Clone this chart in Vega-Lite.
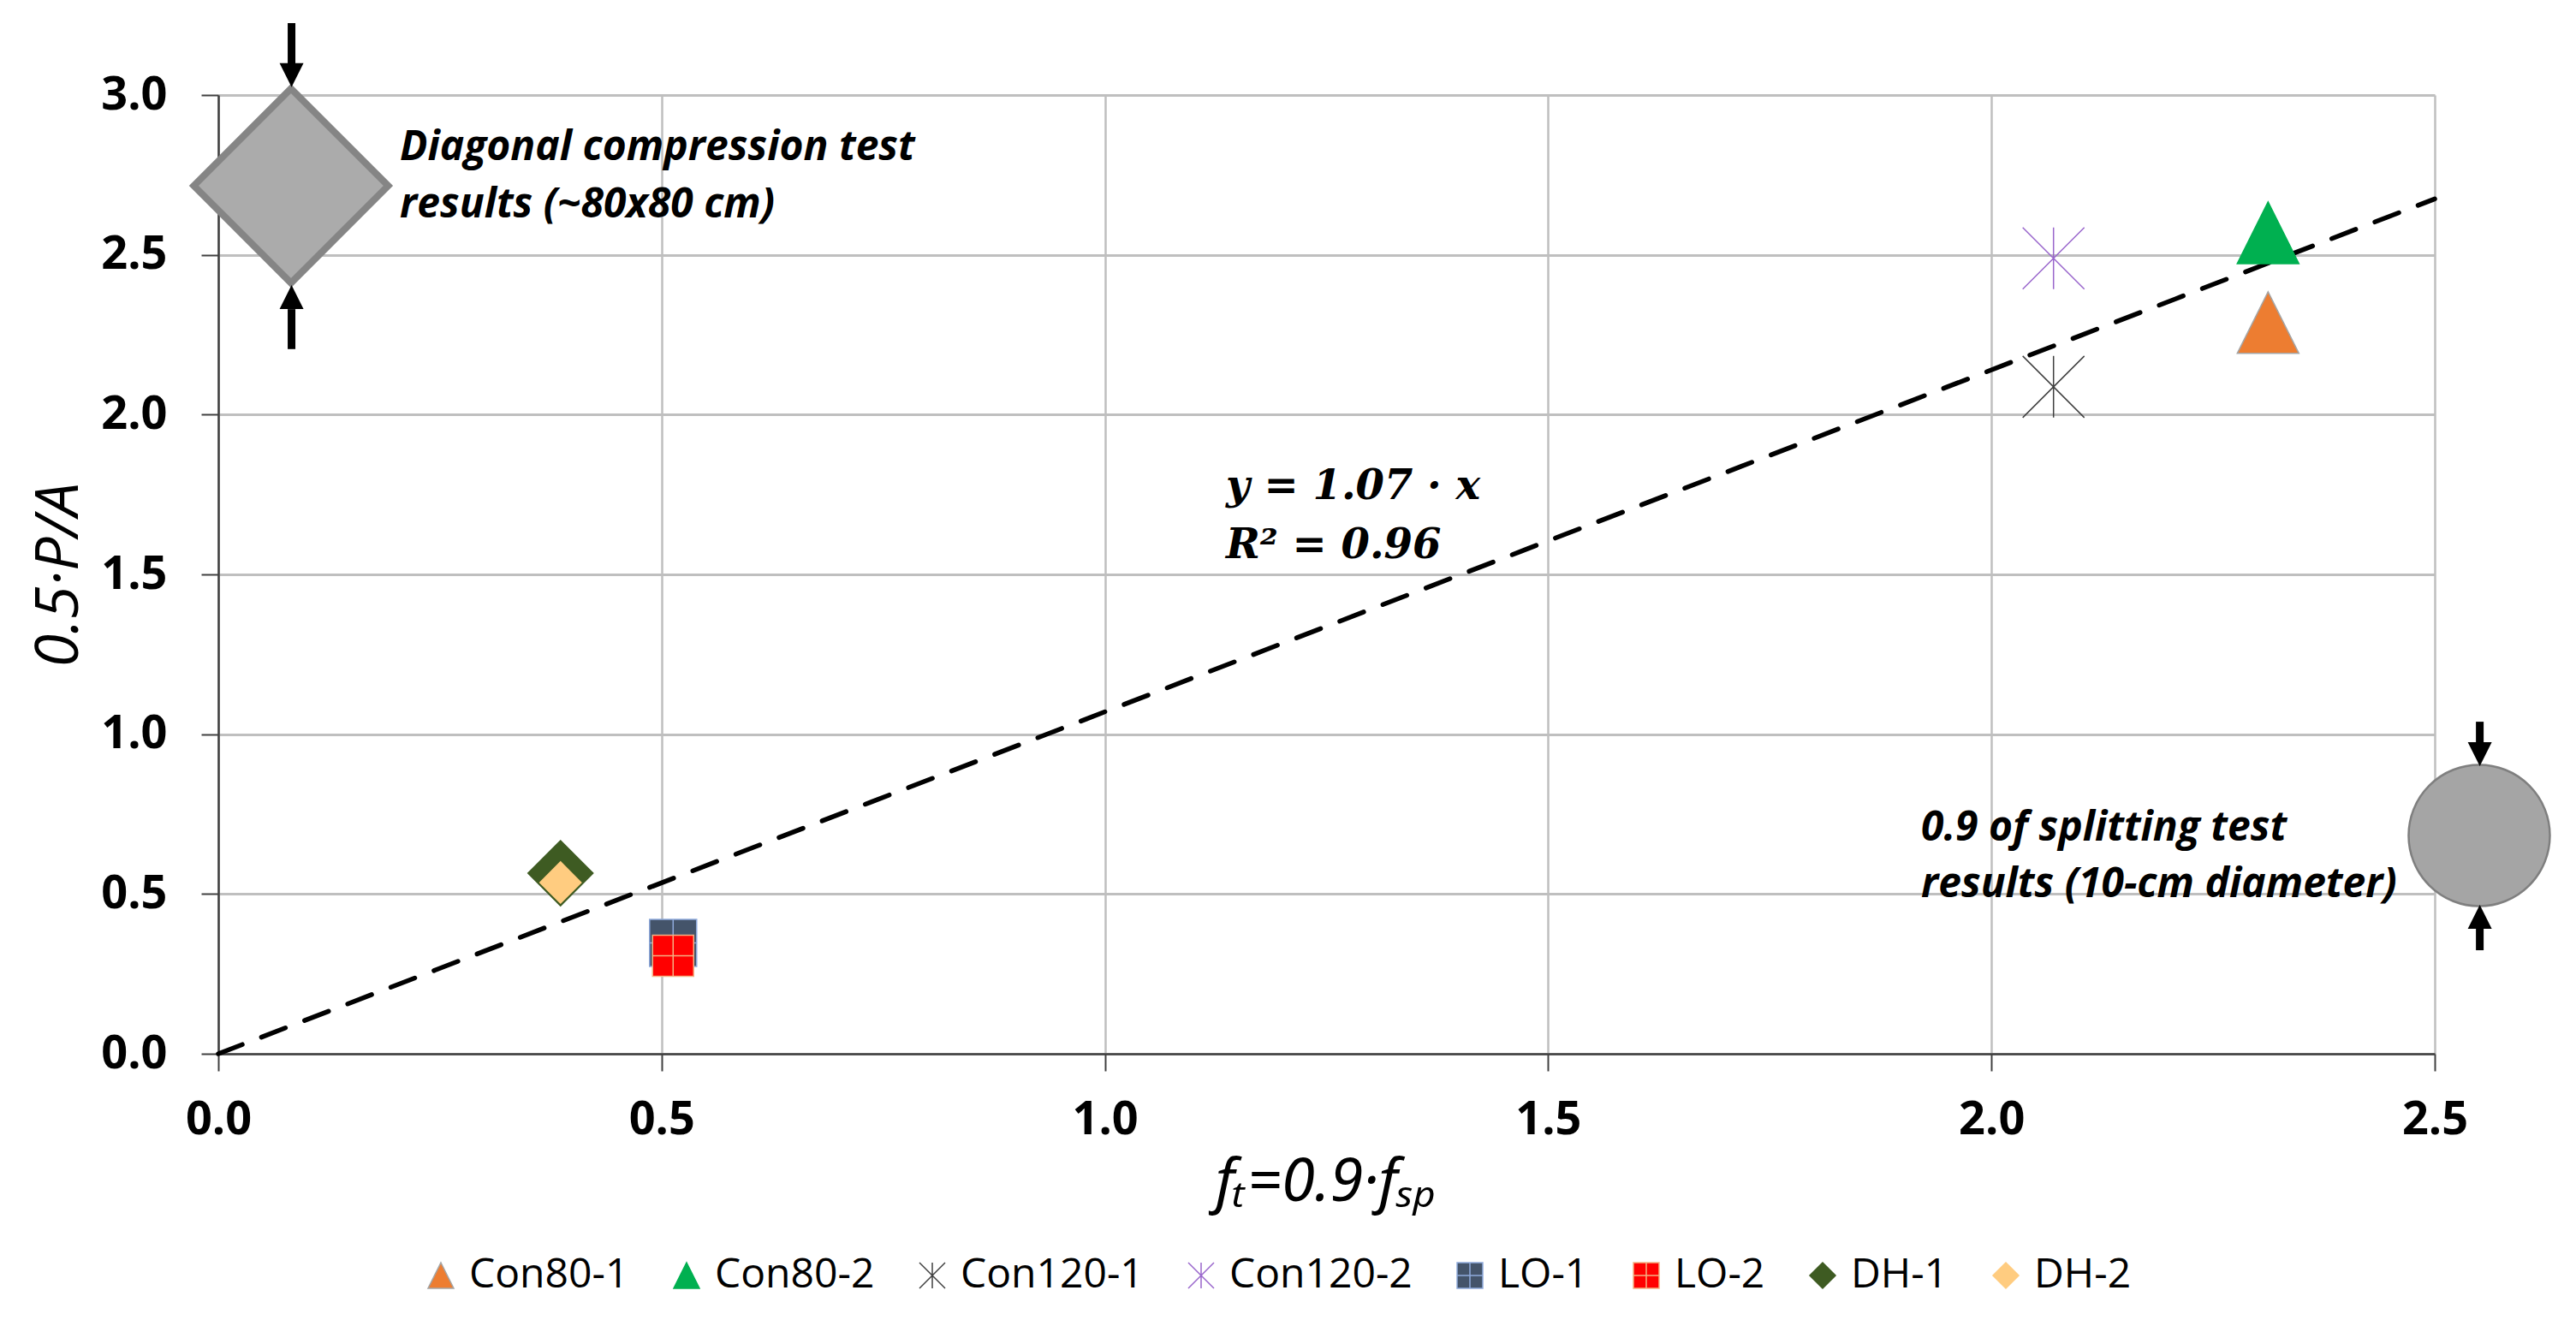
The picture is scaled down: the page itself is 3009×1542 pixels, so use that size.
{
"$schema":"https://vega.github.io/schema/vega-lite/v6.json",
"width":2589,"height":1120,
"autosize":{"type":"none"},
"padding":{"left":255,"top":111,"right":165,"bottom":311},
"background":"white",
"config":{"view":{"stroke":null}},
"datasets":{
"points":[
{"series":"Con80-1","ft":2.312,"stress":2.288},
{"series":"Con80-2","ft":2.312,"stress":2.569},
{"series":"Con120-1","ft":2.07,"stress":2.087},
{"series":"Con120-2","ft":2.07,"stress":2.489},
{"series":"LO-1","ft":0.513,"stress":0.347},
{"series":"LO-2","ft":0.513,"stress":0.307},
{"series":"DH-1","ft":0.386,"stress":0.565},
{"series":"DH-2","ft":0.386,"stress":0.536}
],
"fit":[{"ft":0,"stress":0},{"ft":2.5,"stress":2.675}],
"shafts":[
{"ft":0.0826,"from":3.225,"to":3.099},
{"ft":0.0826,"from":2.33,"to":2.205},
{"ft":2.5508,"from":1.039,"to":0.975},
{"ft":2.5508,"from":0.391,"to":0.324}
],
"headsDown":[{"ft":0.0826,"stress":3.062},{"ft":2.5508,"stress":0.9375}],
"headsUp":[{"ft":0.0826,"stress":2.368},{"ft":2.5508,"stress":0.4286}],
"notes":[
{"ft":0.2047,"stress":2.797,"note":"Diagonal compression test"},
{"ft":0.2047,"stress":2.618,"note":"results (~80x80 cm)"},
{"ft":1.9206,"stress":0.667,"note":"0.9 of splitting test"},
{"ft":1.9206,"stress":0.49,"note":"results (10-cm diameter)"}
],
"equation":[
{"ft":1.1365,"stress":1.736,"note":"y = 1.07 · x"},
{"ft":1.1365,"stress":1.551,"note":"R² = 0.96"}
]
},
"layer":[
{"data":{"name":"fit"},"mark":{"type":"line","color":"black","strokeWidth":5.5,"strokeDash":[30,24],"strokeCap":"round"},
"encoding":{
"x":{"field":"ft","type":"quantitative","scale":{"domain":[0,2.5],"nice":false,"zero":false},
"axis":{"values":[0,0.5,1,1.5,2,2.5],"format":".1f","title":"fₜ=0.9·fₛₚ","labelFlush":false,"labelFont":"Open Sans","labelFontWeight":"bold","labelFontSize":54,"labelColor":"black","labelPadding":30,"tickSize":20,"tickColor":"#404040","tickWidth":2,"domainColor":"#404040","domainWidth":2.5,"grid":true,"gridColor":"#BFBFBF","gridWidth":2.5,"titleFont":"Noto Sans","titleFontStyle":"italic","titleFontWeight":"normal","titleFontSize":70,"titleColor":"black","titlePadding":12}},
"y":{"field":"stress","type":"quantitative","scale":{"domain":[0,3],"nice":false,"zero":false},
"axis":{"values":[0,0.5,1,1.5,2,2.5,3],"format":".1f","title":"0.5·P/A","labelFont":"Open Sans","labelFontWeight":"bold","labelFontSize":54,"labelColor":"black","labelPadding":40,"tickSize":20,"tickColor":"#404040","tickWidth":2,"domainColor":"#404040","domainWidth":2.5,"grid":true,"gridColor":"#BFBFBF","gridWidth":3,"titleFont":"Open Sans","titleFontStyle":"italic","titleFontWeight":"normal","titleFontSize":70,"titleColor":"black","titlePadding":12}}
}},
{"data":{"name":"points"},"mark":{"type":"point","filled":true,"opacity":1,"strokeWidth":1.5},
"encoding":{
"x":{"field":"ft","type":"quantitative"},
"y":{"field":"stress","type":"quantitative"},
"fill":{"field":"series","type":"nominal","title":null,
"scale":{"domain":["Con80-1","Con80-2","Con120-1","Con120-2","LO-1","LO-2","DH-1","DH-2"],
"range":["#ED7D31","#00B050","#404040","#9966CC","#44546A","#FF0000","#3E5B22","#FFCC80"]},
"legend":{"orient":"none","legendX":236,"legendY":1355,"direction":"horizontal","columns":8,"symbolSize":900,"symbolStrokeWidth":1.5,"labelFont":"Open Sans","labelFontSize":48,"labelColor":"black","labelOffset":9,"columnPadding":43,"labelLimit":400,"symbolOpacity":1}},
"stroke":{"field":"series","type":"nominal","title":null,
"scale":{"domain":["Con80-1","Con80-2","Con120-1","Con120-2","LO-1","LO-2","DH-1","DH-2"],
"range":["#A5A5A5","#00B050","#404040","#9966CC","#8FAADC","#F4B183","#3E5B22","#FFCC80"]}},
"shape":{"field":"series","type":"nominal","title":null,
"scale":{"domain":["Con80-1","Con80-2","Con120-1","Con120-2","LO-1","LO-2","DH-1","DH-2"],
"range":["M0,-1L1,1L-1,1Z","M0,-1L1,1L-1,1Z","M0,-1L0,1M-1,-1L1,1M-1,1L1,-1","M0,-1L0,1M-1,-1L1,1M-1,1L1,-1","M-1,-1L1,-1L1,1L-1,1ZM0,-1L0,1M-1,0L1,0","M-1,-1L1,-1L1,1L-1,1ZM0,-1L0,1M-1,0L1,0","M0,-1L1,0L0,1L-1,0Z","M0,-1L1,0L0,1L-1,0Z"]}},
"size":{"field":"series","type":"nominal","legend":null,
"scale":{"type":"ordinal","domain":["DH-2","DH-1","LO-2","LO-1","Con120-2","Con120-1","Con80-2","Con80-1"],
"range":[2304,5776,2304,3025,5184,5184,5184,5184]}}
}},
{"data":{"values":[{"ft":0.082,"stress":2.716}]},"mark":{"type":"point","filled":true,"opacity":1,"shape":"M0,-1L1,0L0,1L-1,0Z","size":51529,"fill":"#ABABAB","stroke":"#858585","strokeWidth":8},
"encoding":{"x":{"field":"ft","type":"quantitative"},"y":{"field":"stress","type":"quantitative"}}},
{"data":{"values":[{"ft":2.5502,"stress":0.683}]},"mark":{"type":"point","filled":true,"opacity":1,"shape":"circle","size":27225,"fill":"#A5A5A5","stroke":"#7F7F7F","strokeWidth":2.5},
"encoding":{"x":{"field":"ft","type":"quantitative"},"y":{"field":"stress","type":"quantitative"}}},
{"data":{"name":"shafts"},"mark":{"type":"rule","color":"black","strokeWidth":9},
"encoding":{"x":{"field":"ft","type":"quantitative"},"y":{"field":"from","type":"quantitative"},"y2":{"field":"to"}}},
{"data":{"name":"headsDown"},"mark":{"type":"point","filled":true,"opacity":1,"shape":"M-1,-1L1,-1L0,1Z","size":784,"fill":"black","strokeWidth":0},
"encoding":{"x":{"field":"ft","type":"quantitative"},"y":{"field":"stress","type":"quantitative"}}},
{"data":{"name":"headsUp"},"mark":{"type":"point","filled":true,"opacity":1,"shape":"M0,-1L1,1L-1,1Z","size":784,"fill":"black","strokeWidth":0},
"encoding":{"x":{"field":"ft","type":"quantitative"},"y":{"field":"stress","type":"quantitative"}}},
{"data":{"name":"notes"},"mark":{"type":"text","align":"left","baseline":"alphabetic","font":"Open Sans","fontStyle":"italic","fontWeight":"bold","fontSize":48,"color":"black"},
"encoding":{"x":{"field":"ft","type":"quantitative"},"y":{"field":"stress","type":"quantitative"},"text":{"field":"note"}}},
{"data":{"name":"equation"},"mark":{"type":"text","align":"left","baseline":"alphabetic","font":"DejaVu Serif","fontStyle":"italic","fontWeight":"bold","fontSize":48,"color":"black"},
"encoding":{"x":{"field":"ft","type":"quantitative"},"y":{"field":"stress","type":"quantitative"},"text":{"field":"note"}}}
]
}
